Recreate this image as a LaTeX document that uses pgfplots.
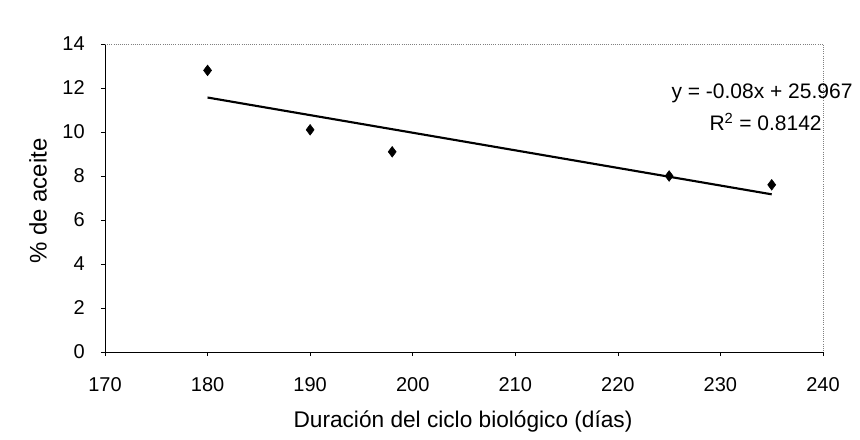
\documentclass[border=0pt]{standalone}
\usepackage{pgfplots}
\pgfplotsset{compat=1.18}
\usepackage{fontspec}
\setmainfont{Liberation Sans}
\begin{document}
\begin{tikzpicture}
\fontsize{15}{18}\selectfont
\begin{axis}[
  at={(0,0)}, anchor=south west,
  scale only axis, width=538.5pt, height=231pt,
  xmin=170, xmax=240, ymin=0, ymax=14,
  xtick={170,180,...,240}, ytick={0,2,...,14},
  axis x line*=bottom, axis y line*=left,
  axis line style={-, black, line width=0.6pt},
  tick align=outside, major tick length=3pt,
  tick style={black, line width=0.5pt},
  /pgf/number format/assume math mode=true,
  /pgf/number format/1000 sep={},
  ticklabel style={font=\fontsize{15}{18}\selectfont},
  xticklabel style={yshift=-11pt},
  yticklabel style={xshift=-7pt},
  xlabel={Duración del ciclo biológico (días)},
  ylabel={\% de aceite},
  xlabel style={font=\fontsize{17}{20}\selectfont, at={(axis description cs:0.4986,-0.227)}, anchor=center},
  ylabel style={font=\fontsize{18}{21}\selectfont, at={(axis description cs:-0.0933,0.49)}, anchor=center},
  clip=false,
]
\draw[gray, densely dotted, line width=0.6pt] (rel axis cs:0,1) -- (rel axis cs:1,1) -- (rel axis cs:1,0);
\addplot[only marks, mark=diamond*, mark size=4pt, black] coordinates {
  (180,12.8) (190,10.1) (198,9.1) (225,8.0) (235,7.6)
};
\addplot[black, line width=1.6pt] coordinates {(180,11.567) (235,7.167)};
\node[anchor=east, inner sep=0pt, font=\fontsize{15.75}{18}\selectfont] at (axis cs:242.9,11.77) {y = -0.08x + 25.967};
\node[anchor=east, inner sep=0pt, font=\fontsize{15.75}{18}\selectfont] at (axis cs:239.9,10.45) {R\textsuperscript{2} = 0.8142};
\end{axis}
\useasboundingbox (-78.75pt,-63pt) rectangle (566.25pt,264pt);
\end{tikzpicture}
\end{document}
